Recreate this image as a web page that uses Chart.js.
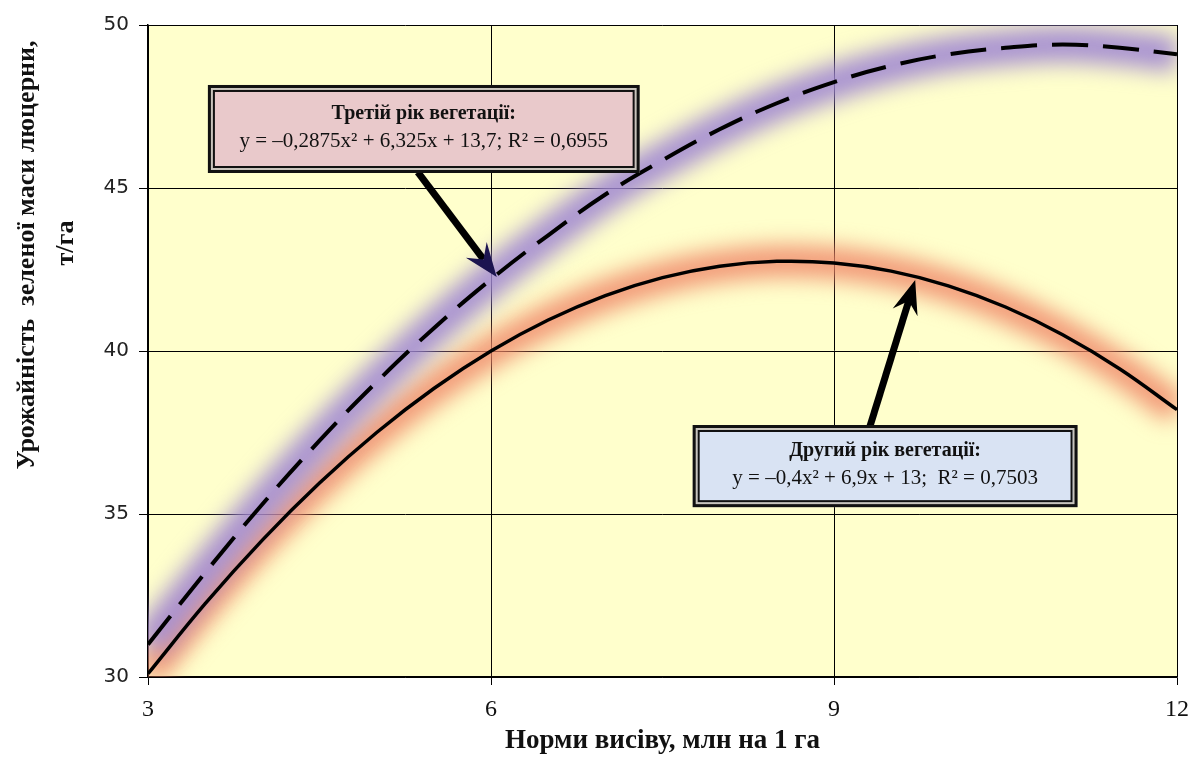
<!DOCTYPE html>
<html>
<head>
<meta charset="utf-8">
<script src="https://cdn.jsdelivr.net/npm/chart.js@4"></script>
<style>
  html, body { margin: 0; padding: 0; background: #fff; }
  #wrap { width: 1194px; height: 761px; }
</style>
</head>
<body>
<div id="wrap"><canvas id="grafica" width="1194" height="761"></canvas></div>
<script>
// Норми висіву (млн на 1 га)
const normy = [3, 3.5, 4, 4.5, 5, 5.5, 6, 6.5, 7, 7.5, 8, 8.5, 9, 9.5, 10, 10.5, 11, 11.5, 12];
// Другий рік вегетації (суцільна лінія), т/га
const druhyiRik = [30.1, 32.25, 34.2, 35.95, 37.5, 38.85, 40.0, 40.95, 41.7, 42.25, 42.6, 42.75, 42.7, 42.45, 42.0, 41.35, 40.5, 39.45, 38.2];
// Третій рік вегетації (пунктир), т/га
const tretiiRik = [31.0, 33.2, 35.3, 37.25, 39.05, 40.7, 42.2, 43.55, 44.8, 45.85, 46.8, 47.6, 48.25, 48.75, 49.1, 49.3, 49.4, 49.3, 49.1];
const xTicks = [3, 6, 9, 12];
const yTicks = [30, 35, 40, 45, 50];
const yTitle = ["Урожайність  зеленої маси люцерни,", "т/га"];
const xTitle = "Норми висіву, млн на 1 га";

const SERIF = "Liberation Serif";

// Підписи з рівняннями трендів (в одиницях даних)
const pidpysy = [
  { x1: 3.524, x2: 7.30, y1: 48.16, y2: 45.46, fill: "#e9c9cb",
    title: "Третій рік вегетації:", eq: "y = –0,2875x² + 6,325x + 13,7; R² = 0,6955",
    arrow: [5.36, 45.49, 6.05, 42.27], head: "#1c1450" },
  { x1: 7.764, x2: 11.13, y1: 37.73, y2: 35.21, fill: "#d9e3f3",
    title: "Другий рік вегетації:", eq: "y = –0,4x² + 6,9x + 13;  R² = 0,7503",
    arrow: [9.31, 37.64, 9.71, 42.18], head: "#000" }
];

function toPts(ys) {
  return normy.map((x, i) => ({ x: x, y: ys[i] }));
}

const fonPlugin = {
  id: "fon",
  beforeDraw(chart) {
    const { ctx, chartArea: a } = chart;
    ctx.save();
    ctx.fillStyle = "#ffffcc";
    ctx.fillRect(a.left, a.top, a.right - a.left, a.bottom - a.top);
    ctx.restore();
  },
  beforeDatasetDraw(chart, args) {
    if (chart.data.datasets[args.index].glow) {
      chart.ctx.save();
      chart.ctx.filter = "blur(11px)";
    }
  },
  afterDatasetDraw(chart, args) {
    if (chart.data.datasets[args.index].glow) {
      chart.ctx.restore();
    }
  },
  afterDraw(chart) {
    // назва осі Y (вище центру, як в оригіналі)
    const ctx = chart.ctx;
    ctx.save();
    ctx.fillStyle = "#111";
    ctx.font = "bold 26px " + SERIF;
    ctx.textAlign = "center";
    ctx.textBaseline = "middle";
    ctx.translate(27, 255);
    ctx.rotate(-Math.PI / 2);
    ctx.fillText(yTitle[0], 0, 0);
    ctx.fillText(yTitle[1], 12, 39);
    ctx.restore();
  }
};

function strilka(ctx, x1, y1, x2, y2, headColor) {
  const ang = Math.atan2(y2 - y1, x2 - x1);
  const hl = 30, hw = 13;
  const c = Math.cos(ang), s = Math.sin(ang);
  const bx = x2 - hl * c, by = y2 - hl * s;
  ctx.save();
  ctx.strokeStyle = "#000";
  ctx.lineWidth = 7;
  ctx.beginPath();
  ctx.moveTo(x1, y1);
  ctx.lineTo(bx + 8 * c, by + 8 * s);
  ctx.stroke();
  ctx.fillStyle = headColor;
  ctx.beginPath();
  ctx.moveTo(x2, y2);
  ctx.lineTo(bx + hw * s - 4 * c, by - hw * c - 4 * s);
  ctx.lineTo(bx + 8 * c, by + 8 * s);
  ctx.lineTo(bx - hw * s - 4 * c, by + hw * c - 4 * s);
  ctx.closePath();
  ctx.fill();
  ctx.restore();
}

const pidpysPlugin = {
  id: "pidpysy",
  afterDraw(chart) {
    const { ctx, scales: { x, y } } = chart;
    pidpysy.forEach(p => {
      const l = x.getPixelForValue(p.x1), r = x.getPixelForValue(p.x2);
      const t = y.getPixelForValue(p.y1), b = y.getPixelForValue(p.y2);
      const a = p.arrow;
      strilka(ctx, x.getPixelForValue(a[0]), y.getPixelForValue(a[1]),
              x.getPixelForValue(a[2]), y.getPixelForValue(a[3]), p.head);
      ctx.save();
      // подвійна рамка
      ctx.fillStyle = "#c8c4bc";
      ctx.fillRect(l, t, r - l, b - t);
      ctx.strokeStyle = "#111";
      ctx.lineWidth = 3;
      ctx.strokeRect(l + 1.5, t + 1.5, r - l - 3, b - t - 3);
      ctx.fillStyle = p.fill;
      ctx.fillRect(l + 5, t + 5, r - l - 10, b - t - 10);
      ctx.lineWidth = 2;
      ctx.strokeRect(l + 6, t + 6, r - l - 12, b - t - 12);
      ctx.fillStyle = "#111";
      ctx.textAlign = "center";
      ctx.textBaseline = "middle";
      const cx = (l + r) / 2, cy = (t + b) / 2;
      ctx.font = "bold 20px " + SERIF;
      ctx.fillText(p.title, cx, cy - 15);
      ctx.font = "21px " + SERIF;
      ctx.fillText(p.eq, cx, cy + 12);
      ctx.restore();
    });
  }
};

const ctx = document.getElementById("grafica").getContext("2d");
new Chart(ctx, {
  type: "line",
  data: {
    // перші набори малюються зверху
    datasets: [
      { data: toPts(tretiiRik), borderColor: "#000", borderWidth: 4, borderDash: [36, 15],
        pointRadius: 0, tension: 0.4, fill: false },
      { data: toPts(druhyiRik), borderColor: "#000", borderWidth: 3.5,
        pointRadius: 0, tension: 0.4, fill: false },
      { data: toPts(tretiiRik), glow: true, borderColor: "rgba(160,135,210,0.9)", borderWidth: 36,
        pointRadius: 0, tension: 0.4, fill: false },
      { data: toPts(druhyiRik), glow: true, borderColor: "rgba(240,135,105,0.85)", borderWidth: 32,
        pointRadius: 0, tension: 0.4, fill: false }
    ]
  },
  options: {
    responsive: false,
    animation: false,
    layout: { padding: { top: 25, right: 17 } },
    plugins: { legend: { display: false }, tooltip: { enabled: false } },
    scales: {
      x: {
        type: "linear", min: 3, max: 12,
        afterBuildTicks: s => { s.ticks = xTicks.map(v => ({ value: v })); },
        afterFit: s => { s.height = 84; s.paddingLeft = 0; s.paddingRight = 0; },
        grid: { color: "#000", lineWidth: 1, tickLength: 8 },
        border: { color: "#000", width: 1.5 },
        ticks: { color: "#111", font: { family: SERIF, size: 24 }, padding: 10 },
        title: { display: true, text: xTitle, color: "#111",
                 font: { family: SERIF, size: 27, weight: "bold" }, padding: { top: 4 } }
      },
      y: {
        min: 30, max: 50,
        afterBuildTicks: s => { s.ticks = yTicks.map(v => ({ value: v })); },
        afterFit: s => { s.width = 148; s.paddingTop = 0; s.paddingBottom = 0; },
        grid: { color: "#000", lineWidth: 1, tickLength: 9 },
        border: { color: "#000", width: 1.5 },
        ticks: { color: "#222", font: { family: "DejaVu Sans", size: 20 }, padding: 10 }
      }
    }
  },
  plugins: [fonPlugin, pidpysPlugin]
});
</script>
</body>
</html>
